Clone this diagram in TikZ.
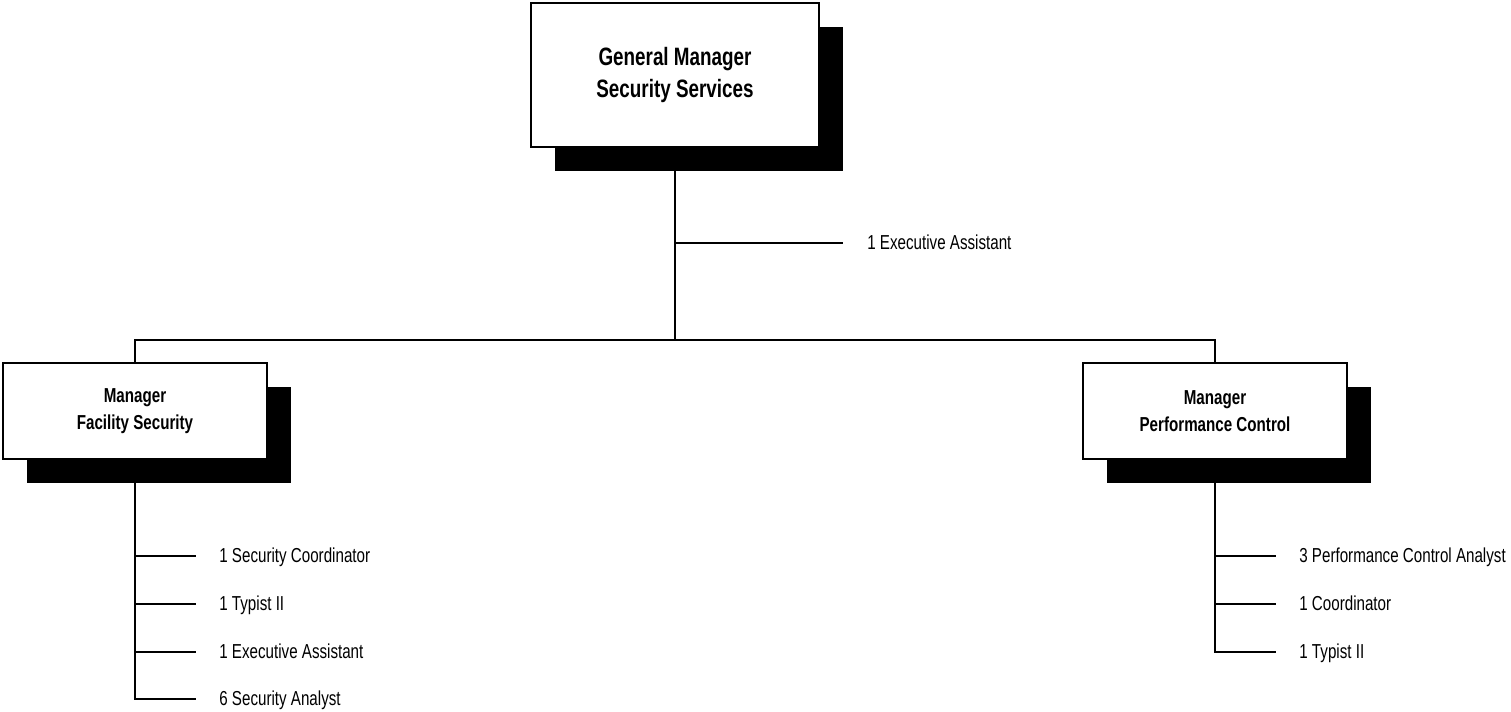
\documentclass[tikz,border=0pt]{standalone}
\usepackage{fontspec}
\setmainfont{Liberation Sans}[FakeStretch=0.75]
\usetikzlibrary{shadows}

\begin{document}
\begin{tikzpicture}[
    box/.style={draw, fill=white, line width=0.75pt, align=center,
      minimum width=5.28cm, minimum height=1.92cm,
      font=\bfseries\fontsize{11.5}{15.2}\selectfont,
      drop shadow={shadow xshift=0.48cm, shadow yshift=-0.49cm, fill=black, opacity=1}},
    item/.style={anchor=mid west, inner sep=0pt, yshift=-1.1pt, font=\fontsize{11.5}{14}\selectfont},
    conn/.style={line width=1.5pt}]
  \useasboundingbox (0,0) rectangle (30.22,-14.24);

  % boxes
  \node[box, minimum width=5.76cm, minimum height=2.88cm,
    font=\bfseries\fontsize{14.3}{18.5}\selectfont] (gm) at (13.5,-1.5) {General Manager\\Security Services};
  \node[box] (fs) at (2.7,-8.22) {Manager\\Facility Security};
  \node[box] (pc) at (24.3,-8.22) {Manager\\Performance Control};

  % top level
  \coordinate (bar) at (13.5,-6.8);
  \coordinate (ea) at (16.86,-4.86);
  \node[item] (eat) at (17.34,-4.86) {1 Executive Assistant};
  \draw[conn] (gm.south) -- (bar);
  \draw[conn] (gm.south) |- (ea);
  \draw[conn] (fs.north) |- (bar) -| (pc.north);

  % staff under each manager
  \foreach \y/\t [count=\i] in {-11.12/1 Security Coordinator, -12.08/1 Typist II,
      -13.04/1 Executive Assistant, -13.98/6 Security Analyst} {
    \coordinate (fs\i) at (3.92,\y);
    \node[item] (fst\i) at (4.38,\y) {\t};
    \draw[conn] (fs.south) |- (fs\i);
  }
  \foreach \y/\t [count=\i] in {-11.12/3 Performance Control Analyst, -12.08/1 Coordinator,
      -13.04/1 Typist II} {
    \coordinate (pc\i) at (25.52,\y);
    \node[item] (pct\i) at (25.98,\y) {\t};
    \draw[conn] (pc.south) |- (pc\i);
  }
\end{tikzpicture}
\end{document}
